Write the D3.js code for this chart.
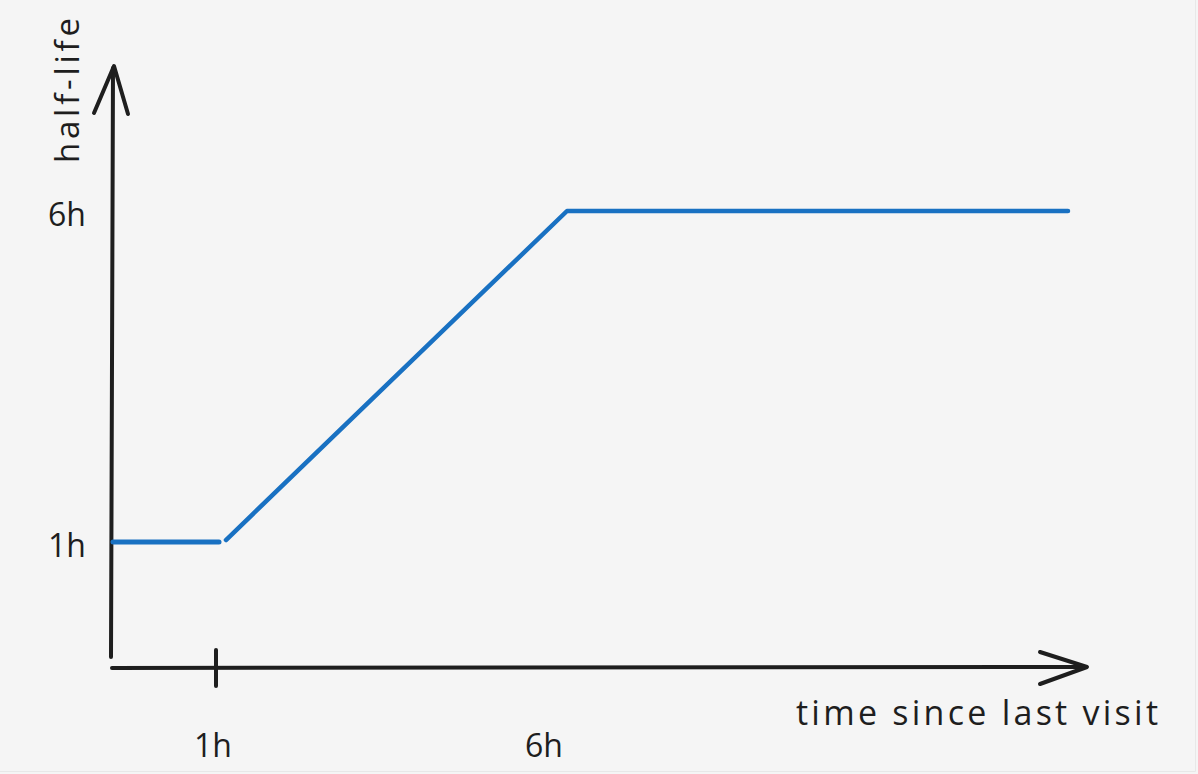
<!DOCTYPE html>
<html>
<head>
<meta charset="utf-8">
<script src="https://cdn.jsdelivr.net/npm/d3@7"></script>
<style>
  html, body { margin: 0; padding: 0; background: #f5f5f5; }
  svg { display: block; }
  text { font-family: "Open Sans", sans-serif; fill: #1e1e1e; }
</style>
</head>
<body>
<div id="chart"></div>
<script>
// hand-sketched half-life curve
const xTicks = [1, 6];
const xTickLabels = ['1h', '6h'];
const yTicks = [1, 6];
const yTickLabels = ['1h', '6h'];
const gapHours = [0, 1, 1.1, 6, 10.9];
const halfLife = [1, 1, 1.03, 6, 6];
const xTitle = 'time since last visit';
const yTitle = 'half-life';

const W = 1198, H = 774;
const svg = d3.select('#chart').append('svg')
  .attr('width', W).attr('height', H);

// faint frame on the right and bottom edges
svg.append('path')
  .attr('d', `M${W - 2.5},0 V${H - 2.5} H0`)
  .attr('fill', 'none').attr('stroke', '#e8e8e8');

// sketch isn't to scale, so the scales are piecewise
const x = d3.scaleLinear().domain([0, 1, 6, 10.9]).range([113, 219, 567, 1068]);
const y = d3.scaleLinear().domain([0, 1, 6]).range([668, 542, 211]);

const ink = '#1e1e1e';

// y axis + arrow
svg.append('path')
  .attr('d', 'M111,657 L113,68')
  .attr('stroke', ink).attr('stroke-width', 4).attr('fill', 'none').attr('stroke-linecap', 'round');
svg.append('path')
  .attr('d', 'M94,113 L114,66 L128,114')
  .attr('stroke', ink).attr('stroke-width', 4).attr('fill', 'none')
  .attr('stroke-linecap', 'round').attr('stroke-linejoin', 'round');

// x axis + arrow
svg.append('path')
  .attr('d', 'M112,668 L1085,667')
  .attr('stroke', ink).attr('stroke-width', 4).attr('fill', 'none').attr('stroke-linecap', 'round');
svg.append('path')
  .attr('d', 'M1040,652 L1087,667 L1040,684')
  .attr('stroke', ink).attr('stroke-width', 4).attr('fill', 'none')
  .attr('stroke-linecap', 'round').attr('stroke-linejoin', 'round');

// x ticks (only 1h has a tick mark)
svg.append('line')
  .attr('x1', x(xTicks[0]) - 3).attr('x2', x(xTicks[0]) - 3)
  .attr('y1', 650).attr('y2', 686)
  .attr('stroke', ink).attr('stroke-width', 4).attr('stroke-linecap', 'round');

svg.selectAll('.xlab')
  .data(xTicks)
  .enter().append('text')
  .attr('class', 'xlab')
  .attr('x', (d, i) => x(d) - (i === 0 ? 6 : 23))
  .attr('y', 757)
  .attr('text-anchor', 'middle')
  .style('font-size', '32px')
  .text((d, i) => xTickLabels[i]);

svg.selectAll('.ylab')
  .data(yTicks)
  .enter().append('text')
  .attr('class', 'ylab')
  .attr('x', 67)
  .attr('y', d => y(d) + 15)
  .attr('text-anchor', 'middle')
  .style('font-size', '32px')
  .text((d, i) => yTickLabels[i]);

// titles
svg.append('text')
  .attr('x', 1158).attr('y', 725)
  .attr('text-anchor', 'end')
  .attr('textLength', 362)
  .style('font-size', '34px')
  .text(xTitle);

svg.append('text')
  .attr('transform', 'translate(79,163) rotate(-90)')
  .attr('textLength', 145)
  .style('font-size', '33px')
  .text(yTitle);

// the curve
const pts = gapHours.map((g, i) => [g, halfLife[i]]);
const line = d3.line().x(d => x(d[0])).y(d => y(d[1]));

svg.append('path')
  .datum(pts.slice(0, 2))
  .attr('d', line)
  .attr('stroke', '#1971c2').attr('stroke-width', 5).attr('fill', 'none').attr('stroke-linecap', 'round');
svg.append('path')
  .datum(pts.slice(2))
  .attr('d', line)
  .attr('stroke', '#1971c2').attr('stroke-width', 4.5).attr('fill', 'none')
  .attr('stroke-linecap', 'round').attr('stroke-linejoin', 'round');
</script>
</body>
</html>
